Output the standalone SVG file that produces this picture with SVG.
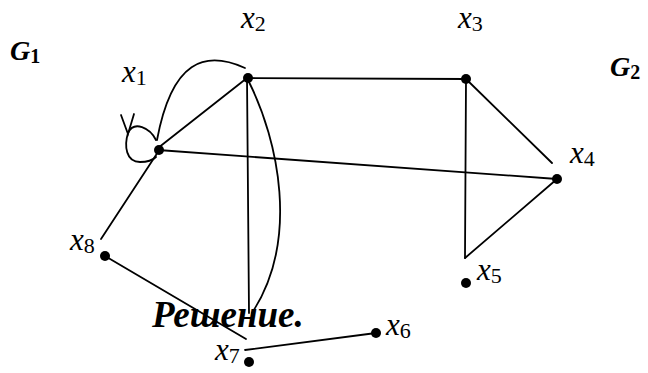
<svg xmlns="http://www.w3.org/2000/svg" width="648" height="373" viewBox="0 0 648 373">
<style>
.e{fill:none;stroke:#000;stroke-width:1.8;stroke-linecap:round}
.n{fill:#000}
text{font-family:'Liberation Serif','Times New Roman',serif;fill:#000}
.lb{font-style:italic;font-size:31px}
.sb{font-style:normal;font-size:22px}
.g{font-style:italic;font-weight:bold;font-size:28px}
.gs{font-style:normal;font-size:20px}
.t{font-style:italic;font-weight:bold;font-size:37px}
</style>
<rect width="648" height="373" fill="#fff"/>
<g id="connectors">
<line class="e" x1="158" y1="148" x2="247" y2="78"/>
<path class="e" d="M157,140 C172,60 205,50 245,68"/>
<path class="e" d="M156,140 C150,128 134,120 128,133 C124,146 126,162 140,162 C148,162 153,160 156,157"/>
<path class="e" d="M121,115 L128,134 L134,114"/>
<line class="e" x1="247" y1="78" x2="466" y2="79"/>
<line class="e" x1="158" y1="150" x2="557" y2="179"/>
<line class="e" x1="247" y1="78" x2="249" y2="313"/>
<path class="e" d="M249,82 C278,140 300,240 252,313"/>
<line class="e" x1="158" y1="152" x2="101" y2="239"/>
<line class="e" x1="105" y1="256" x2="246" y2="339"/>
<line class="e" x1="245" y1="350" x2="376" y2="333"/>
<line class="e" x1="466" y1="79" x2="552" y2="163"/>
<line class="e" x1="466" y1="80" x2="465" y2="258"/>
<line class="e" x1="557" y1="179" x2="465" y2="258"/>
</g>
<g id="x1"><circle class="n" cx="159" cy="150" r="5"/><text class="lb" x="122" y="82">x<tspan class="sb" dy="3">1</tspan></text></g>
<g id="x2"><circle class="n" cx="248" cy="78" r="5"/><text class="lb" x="241" y="28">x<tspan class="sb" dy="3">2</tspan></text></g>
<g id="x3"><circle class="n" cx="466" cy="79" r="5"/><text class="lb" x="458" y="28">x<tspan class="sb" dy="3">3</tspan></text></g>
<g id="x4"><circle class="n" cx="557" cy="179" r="5"/><text class="lb" x="570" y="163">x<tspan class="sb" dy="3">4</tspan></text></g>
<g id="x5"><circle class="n" cx="466" cy="283" r="5"/><text class="lb" x="477" y="280">x<tspan class="sb" dy="3">5</tspan></text></g>
<g id="x6"><circle class="n" cx="376" cy="333" r="5"/><text class="lb" x="386" y="335">x<tspan class="sb" dy="3">6</tspan></text></g>
<g id="x7"><circle class="n" cx="249" cy="362" r="5"/><text class="lb" x="215" y="360">x<tspan class="sb" dy="3">7</tspan></text></g>
<g id="x8"><circle class="n" cx="105" cy="256" r="5"/><text class="lb" x="70" y="250">x<tspan class="sb" dy="3">8</tspan></text></g>
<g id="G1"><text class="g" x="10" y="60">G<tspan class="gs" dy="3">1</tspan></text></g>
<g id="G2"><text class="g" x="610" y="76">G<tspan class="gs" dy="3">2</tspan></text></g>
<g id="title"><text class="t" x="152" y="327">Решение.</text></g>
</svg>
